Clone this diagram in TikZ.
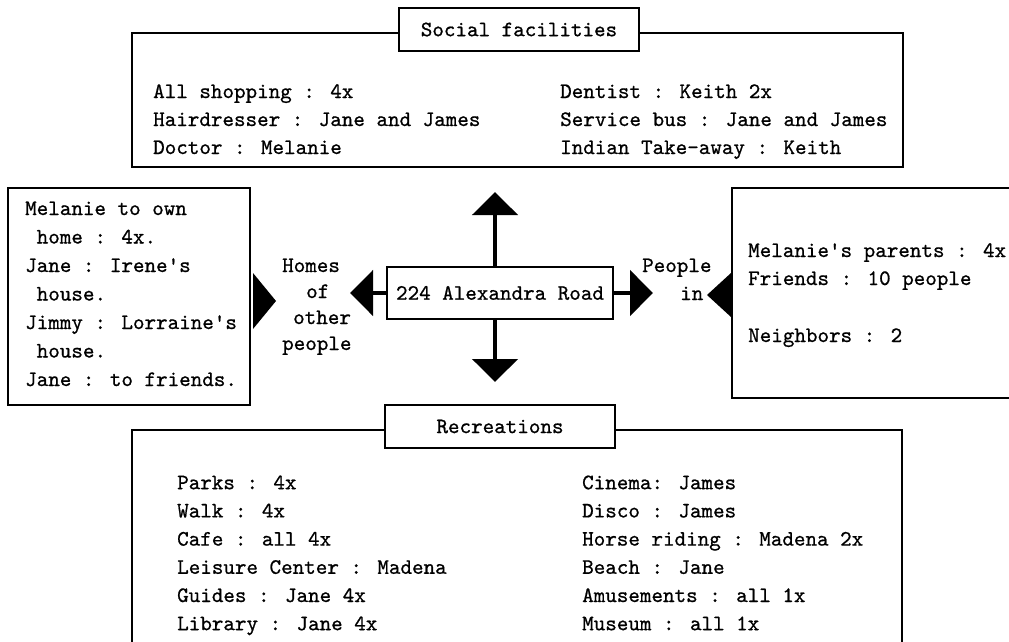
\documentclass[tikz,border=0pt]{standalone}
\usepackage{fontspec}
\usetikzlibrary{arrows.meta}
\newfontfamily\typewriter{lmmono10-regular.otf}[FakeBold=0.8]
\newcommand{\typefont}{\typewriter\fontsize{22}{28}\selectfont}
\begin{document}
\begin{tikzpicture}[x=1pt,y=-1pt,
  frame/.style={line width=1.5pt},
  txt/.style={font=\typefont, anchor=base west, inner sep=0pt},
  titlebox/.style={draw, line width=1.5pt, fill=white, font=\typefont,
                   minimum height=43pt, inner sep=0pt},
  bigarrow/.style={line width=4.5pt, -{Triangle[length=23pt,width=45pt]}},
  pointer/.style={fill=black}
]
\clip (0,0) rectangle (1009,642);
\fill[white] (0,0) rectangle (1009,642);

% --- Social facilities ---
\draw[frame] (132,33) rectangle (903,167);
\node[titlebox, minimum width=240pt] (soctitle) at (519,29.5) {Social facilities};
\foreach \t [count=\i] in {All shopping : 4x, Hairdresser : Jane and James, Doctor : Melanie}
  \node[txt] (soca\i) at (153,70+28*\i) {\t};
\foreach \t [count=\i] in {Dentist : Keith 2x, Service bus : Jane and James, Indian Take-away : Keith}
  \node[txt] (socb\i) at (560,70+28*\i) {\t};

% --- Homes of other people ---
\draw[frame] (8,188) rectangle (250,405);
\foreach \t [count=\i] in {Melanie to own, {\ home : 4x.}, Jane : Irene's, {\ house.},
                          Jimmy : Lorraine's, {\ house.}, Jane : to friends.}
  \node[txt] (homes\i) at (25,186.5+28.5*\i) {\t};
\fill[pointer] (253,273) -- (253,329) -- (276,301) -- cycle;
\node[txt] (hl1) at (282,272) {Homes};
\node[txt] (hl2) at (306,298) {of};
\node[txt] (hl3) at (293,324) {other};
\node[txt] (hl4) at (282,350) {people};

% --- People in ---
\draw[frame] (1020,188) -- (732,188) -- (732,398) -- (1020,398);
\node[txt] (ppl1) at (748,257) {Melanie's parents : 4x};
\node[txt] (ppl2) at (748,285) {Friends : 10 people};
\node[txt] (ppl3) at (748,342) {Neighbors : 2};
\fill[pointer] (731,273) -- (731,317) -- (707,295) -- cycle;
\node[txt] (pl1) at (642,272) {People};
\node[txt] (pl2) at (680,300) {in};

% --- Centre ---
\node[draw, frame, font=\typefont, inner sep=0pt, minimum width=226pt,
      minimum height=52pt] (road) at (500,293) {224 Alexandra Road};
\coordinate (uptip) at (495,192);
\coordinate (downtip) at (495,382);
\coordinate (lefttip) at (350,293);
\coordinate (righttip) at (653,293);
\draw[bigarrow] ([xshift=-5pt]road.north) -- (uptip);
\draw[bigarrow] ([xshift=-5pt]road.south) -- (downtip);
\draw[bigarrow] (road.west) -- (lefttip);
\draw[bigarrow] (road.east) -- (righttip);

% --- Recreations ---
\draw[frame] (132,700) -- (132,430) -- (902,430) -- (902,700);
\node[titlebox, minimum width=230pt] (rectitle) at (500,426.5) {Recreations};
\foreach \t [count=\i] in {Parks : 4x, Walk : 4x, Cafe : all 4x, Leisure Center : Madena,
                          Guides : Jane 4x, Library : Jane 4x}
  \node[txt] (reca\i) at (177,461+28.2*\i) {\t};
\foreach \t [count=\i] in {Cinema: James, Disco : James, Horse riding : Madena 2x,
                          Beach : Jane, Amusements : all 1x, Museum : all 1x}
  \node[txt] (recb\i) at (582,461+28.2*\i) {\t};
\end{tikzpicture}
\end{document}
